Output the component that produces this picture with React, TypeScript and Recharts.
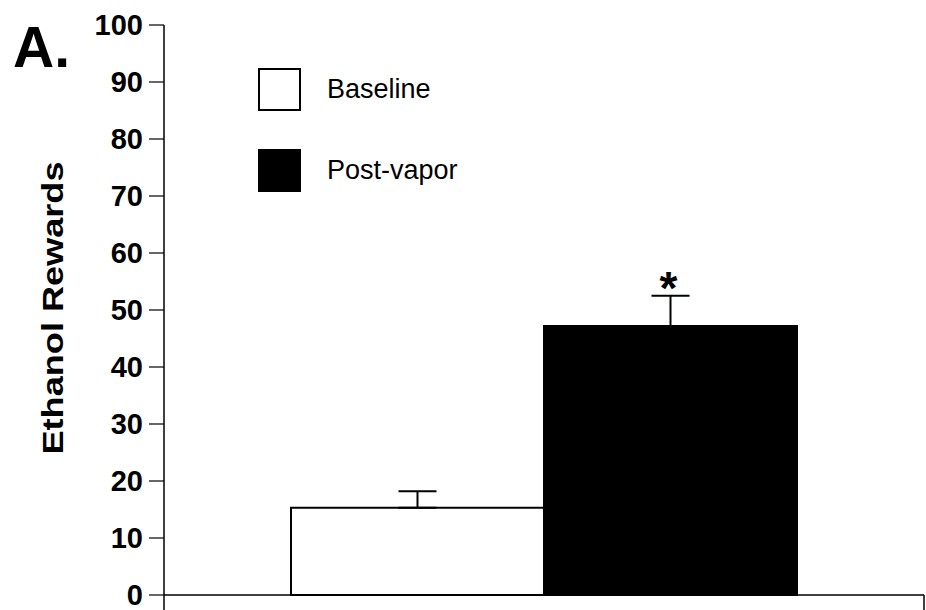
import React from "react";
import {
  BarChart,
  Bar,
  XAxis,
  YAxis,
  ErrorBar,
  LabelList,
  Legend,
} from "recharts";

const seriesNames = ["Baseline", "Post-vapor"];
const seriesKeys = ["baseline", "post"];
const means = [15.3, 47.2];
const sems = [2.9, 5.3];
const marks = ["", "*"];
const yTicks = [0, 10, 20, 30, 40, 50, 60, 70, 80, 90, 100];

const fontFamily = "'Liberation Sans', Arial, Helvetica, sans-serif";

const row: Record<string, any> = { group: "Ethanol" };
seriesKeys.forEach((k, i) => {
  row[k] = means[i];
  row[k + "Err"] = [0, sems[i]];
  row[k + "Mark"] = marks[i];
});
const data = [row];

const fills = ["#ffffff", "#000000"];

const renderLegend = (props: any) => {
  const { payload } = props;
  return (
    <div style={{ fontFamily }}>
      {(payload || []).map((entry: any, i: number) => (
        <div
          key={entry.value}
          style={{ display: "flex", alignItems: "center", height: 42, marginBottom: i === 0 ? 39 : 0 }}
        >
          <div
            style={{
              width: 39,
              height: 39,
              background: fills[i],
              border: "2px solid #000",
              boxSizing: "content-box",
            }}
          />
          <span style={{ marginLeft: 26, fontSize: 27, color: "#000" }}>{entry.value}</span>
        </div>
      ))}
    </div>
  );
};

const renderMark = (props: any) => {
  const { x, y, width, value } = props;
  if (!value) return null;
  return (
    <text
      x={x + width / 2 - 2}
      y={y - 22}
      textAnchor="middle"
      fontFamily={fontFamily}
      fontWeight="bold"
      fontSize={46}
      fill="#000"
    >
      {value}
    </text>
  );
};

const renderYLabel = () => (
  <text
    x={52}
    y={308}
    transform="rotate(-90 52 308)"
    textAnchor="middle"
    dominantBaseline="central"
    fontFamily={fontFamily}
    fontWeight="bold"
    fontSize={30}
    textLength={293}
    lengthAdjust="spacingAndGlyphs"
    fill="#000"
  >
    Ethanol Rewards
  </text>
);

// category has no label; draw tick marks at the band edges instead
const edgeTick = (props: any) => {
  const { x, y, payload } = props;
  const half = payload && payload.offset ? payload.offset : 380;
  return (
    <g>
      <line x1={x - half} x2={x - half} y1={y} y2={y + 15} stroke="#000" strokeWidth={1.5} />
      <line x1={x + half} x2={x + half} y1={y} y2={y + 15} stroke="#000" strokeWidth={1.5} />
    </g>
  );
};

export default function App() {
  return (
    <div style={{ position: "absolute", left: 0, top: 0, width: 926, height: 610, background: "#fff" }}>
      <div
        style={{
          position: "absolute",
          left: 13,
          top: 12,
          fontFamily,
          fontWeight: "bold",
          fontSize: 57,
          lineHeight: "70px",
          color: "#000",
        }}
      >
        A.
      </div>
      <BarChart
        width={926}
        height={610}
        data={data}
        margin={{ top: 25, right: 2, left: 0, bottom: 0 }}
        barCategoryGap={127}
        barGap={0}
      >
        <XAxis
          dataKey="group"
          height={15}
          tickLine={false}
          tickSize={0}
          tickMargin={0}
          tick={edgeTick}
          axisLine={{ stroke: "#000", strokeWidth: 1.5 }}
        />
        <YAxis
          width={164}
          domain={[0, 100]}
          ticks={yTicks}
          interval={0}
          tickSize={15}
          tickMargin={6}
          axisLine={{ stroke: "#000", strokeWidth: 1.5 }}
          tickLine={{ stroke: "#000", strokeWidth: 1.2 }}
          tick={{ fill: "#000", fontSize: 29, fontWeight: "bold", fontFamily }}
          label={{ content: renderYLabel }}
        />
        <Legend
          layout="vertical"
          align="center"
          verticalAlign="middle"
          content={renderLegend}
          wrapperStyle={{ left: 258, top: 68, width: "auto" }}
        />
        {seriesKeys.map((k, i) => (
          <Bar
            key={k}
            dataKey={k}
            name={seriesNames[i]}
            fill={fills[i]}
            stroke="#000"
            strokeWidth={2}
            isAnimationActive={false}
          >
            <ErrorBar dataKey={k + "Err"} width={19} stroke="#000" strokeWidth={2} />
            <LabelList dataKey={k + "Mark"} content={renderMark} />
          </Bar>
        ))}
      </BarChart>
    </div>
  );
}
